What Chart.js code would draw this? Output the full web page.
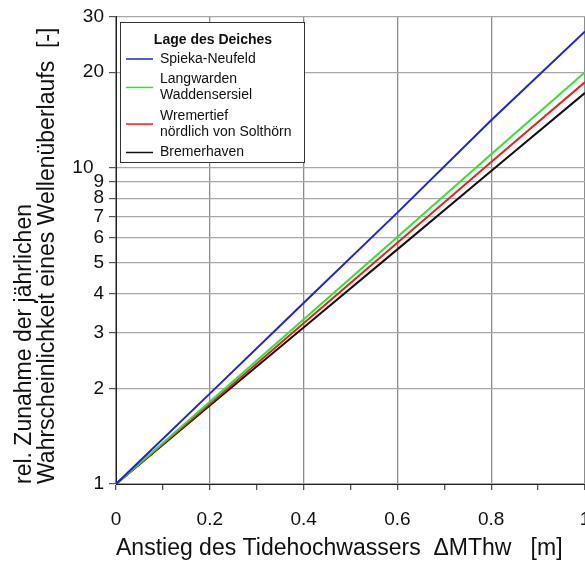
<!DOCTYPE html>
<html>
<head>
<meta charset="utf-8">
<script src="https://cdn.jsdelivr.net/npm/chart.js@4.4.1/dist/chart.umd.min.js"></script>
<style>
  html, body { margin: 0; padding: 0; background: #fff; overflow: hidden; }
  #wrap { position: relative; width: 610px; height: 562px; }
</style>
</head>
<body>
<div id="wrap"><canvas id="chart" width="610" height="562"></canvas></div>
<script>
"use strict";
// Anstieg MThw [m]
const xValues = [0, 0.2, 0.4, 0.6, 0.8, 1.0];
// relative Zunahme
const spiekaNeufeld = [1, 1.93, 3.73, 7.2, 14.1, 26.9];
const langwarden = [1, 1.82, 3.31, 6.03, 11.0, 20.0];
const wremertief = [1, 1.79, 3.22, 5.78, 10.4, 18.6];
const bremerhaven = [1, 1.77, 3.12, 5.51, 9.75, 17.2];
const yTicks = [1, 2, 3, 4, 5, 6, 7, 8, 9, 10, 20, 30];
const legendTitle = 'Lage des Deiches';

function toPoints(values) {
    return xValues.map((x, i) => ({ x: x, y: values[i] }));
}

const series = [
    { label: ['Spieka-Neufeld'], data: spiekaNeufeld, color: '#2323d6' },
    { label: ['Langwarden', 'Waddensersiel'], data: langwarden, color: '#2ee62e' },
    { label: ['Wremertief', 'nördlich von Solthörn'], data: wremertief, color: '#e82020' },
    { label: ['Bremerhaven'], data: bremerhaven, color: '#111111' }
];

// Legende als Kasten mit mehrzeiligen Einträgen
const boxLegend = {
    id: 'boxLegend',
    afterDraw(chart) {
        const ctx = chart.ctx;
        const left = 120, top = 22, width = 184, height = 140;
        ctx.save();
        ctx.fillStyle = '#fff';
        ctx.fillRect(left, top, width, height);
        ctx.strokeStyle = '#333';
        ctx.lineWidth = 1;
        ctx.strokeRect(left + 0.5, top + 0.5, width, height);
        ctx.fillStyle = '#111';
        ctx.textBaseline = 'middle';
        ctx.textAlign = 'center';
        ctx.font = 'bold 14px "Liberation Sans", Arial, sans-serif';
        ctx.fillText(legendTitle, left + 93, top + 18);
        ctx.textAlign = 'left';
        ctx.font = '14px "Liberation Sans", Arial, sans-serif';
        let y = top + 37;
        const lineH = 16.3;
        chart.data.datasets.forEach((ds) => {
            const lines = ds.label;
            const mid = y + (lines.length - 1) * lineH / 2;
            ctx.strokeStyle = ds.borderColor;
            ctx.lineWidth = 1.5;
            ctx.beginPath();
            ctx.moveTo(left + 6, mid);
            ctx.lineTo(left + 33, mid);
            ctx.stroke();
            lines.forEach((t, i) => {
                ctx.fillText(t, left + 40, y + i * lineH);
            });
            y += lines.length * lineH + 4;
        });
        ctx.restore();
    }
};

const context = document.getElementById('chart');
new Chart(context, {
    type: 'line',
    data: {
        datasets: series.map(s => ({
            label: s.label,
            data: toPoints(s.data),
            borderColor: s.color,
            backgroundColor: s.color,
            borderWidth: 2,
            pointRadius: 0,
            tension: 0
        }))
    },
    options: {
        responsive: false,
        animation: false,
        devicePixelRatio: 1,
        layout: { padding: { top: 15, right: 25, left: 0, bottom: 0 } },
        plugins: {
            legend: { display: false },
            tooltip: { enabled: false }
        },
        scales: {
            x: {
                type: 'linear',
                min: 0,
                max: 1,
                border: { color: '#222', width: 1 },
                grid: {
                    color: (c) => (Math.round(c.tick.value * 10) % 2 === 0 ? '#8c8c8c' : 'rgba(0,0,0,0)'),
                    tickColor: '#555',
                    tickLength: 6,
                    lineWidth: 1.3
                },
                ticks: {
                    stepSize: 0.1,
                    padding: 18,
                    color: '#111',
                    maxRotation: 0,
                    font: { family: '"Liberation Sans", Arial, sans-serif', size: 19 },
                    callback: (v) => (Math.round(v * 10) % 2 === 0 ? String(Math.round(v * 10) / 10) : '')
                },
                title: {
                    display: true,
                    text: 'Anstieg des Tidehochwassers  \u0394MThw   [m]',
                    align: 'start',
                    color: '#111',
                    font: { family: '"Liberation Sans", Arial, sans-serif', size: 23 },
                    padding: { top: 0, bottom: 0 }
                },
                afterFit: (scale) => { scale.height = 78; }
            },
            y: {
                type: 'logarithmic',
                min: 1,
                max: 30,
                border: { color: '#222', width: 1 },
                grid: { color: '#a8a8a8', tickColor: '#555', tickLength: 7, lineWidth: 1.2 },
                afterBuildTicks: (scale) => { scale.ticks = yTicks.map(v => ({ value: v })); },
                ticks: {
                    padding: 5,
                    color: '#111',
                    font: { family: '"Liberation Sans", Arial, sans-serif', size: 19 },
                    // "10" sitzt links versetzt neben der 9
                    callback: (v) => (v === 10 ? '10  ' : String(v))
                },
                title: {
                    display: true,
                    text: ['rel. Zunahme der jährlichen', 'Wahrscheinlichkeit eines Wellenüberlaufs  [-]'],
                    align: 'start',
                    color: '#111',
                    font: { family: '"Liberation Sans", Arial, sans-serif', size: 23, lineHeight: 1.0 },
                    padding: { top: 13, bottom: 0 }
                },
                afterFit: (scale) => { scale.width = 116; }
            }
        }
    },
    plugins: [boxLegend]
});
</script>
</body>
</html>
